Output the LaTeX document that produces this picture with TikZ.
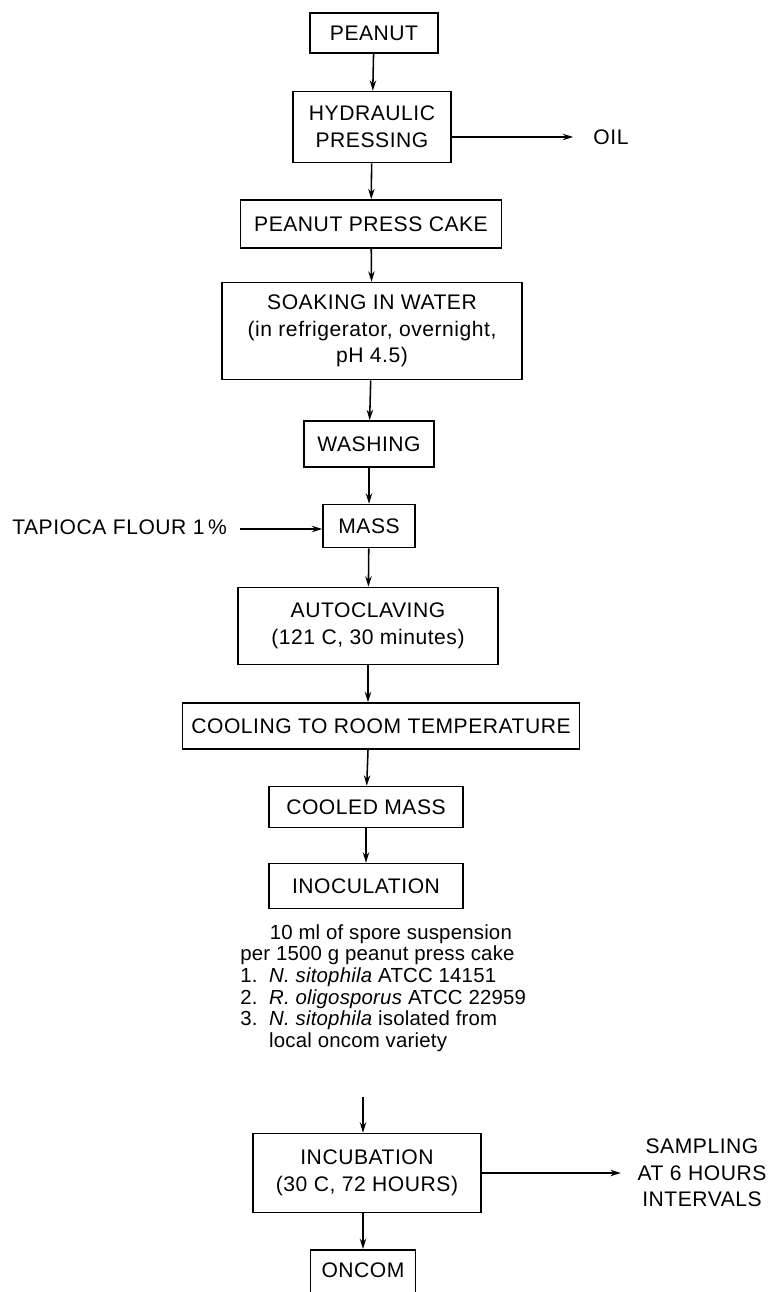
\documentclass[tikz,border=0pt]{standalone}
\usepackage{fontspec}
\setmainfont{Liberation Sans}[LetterSpace=2.5]
\newfontfamily\notefont{Liberation Sans}[LetterSpace=1]
\usepackage{tikz}
\usetikzlibrary{arrows.meta}

\begin{document}
\begin{tikzpicture}[
  x=0.025cm, y=-0.025cm,
  font=\fontsize{15}{19}\selectfont,
  >={Stealth[length=2.6mm,width=1.6mm]},
  stepbox/.style={draw, line width=1.1pt, align=center, inner sep=0pt},
  flow/.style={->, line width=1.1pt},
  side/.style={align=center, inner sep=0pt}
]
\useasboundingbox (0,0) rectangle (774,1292);
\node[stepbox, minimum width=3.2cm, minimum height=1.0cm] (peanut) at (374,33) {PEANUT};
\node[stepbox, minimum width=3.95cm, minimum height=1.775cm] (press) at (372,127) {HYDRAULIC\\PRESSING};
\node[side] (oil) at (611,137) {OIL};
\node[stepbox, minimum width=6.525cm, minimum height=1.2cm] (cake) at (371,224) {PEANUT PRESS CAKE};
\node[stepbox, minimum width=7.5cm, minimum height=2.425cm] (soak) at (372,331)
  {SOAKING IN WATER\\(in refrigerator, overnight,\\pH 4.5)};
\node[stepbox, minimum width=3.25cm, minimum height=1.15cm] (wash) at (369,444) {WASHING};
\node[stepbox, minimum width=2.3cm, minimum height=1.075cm] (mass) at (369,526) {MASS};
\node[side, anchor=west] (tapioca) at (12,527) {TAPIOCA FLOUR 1\,\%};
\coordinate (tapiocaout) at (240,529);
\node[stepbox, minimum width=6.5cm, minimum height=1.925cm] (autoclave) at (368,626)
  {AUTOCLAVING\\(121 C, 30 minutes)};
\node[stepbox, minimum width=9.925cm, minimum height=1.15cm] (cool) at (381,726) {COOLING TO ROOM TEMPERATURE};
\node[stepbox, minimum width=4.85cm, minimum height=1.025cm] (cooled) at (366,807) {COOLED MASS};
\node[stepbox, minimum width=4.85cm, minimum height=1.125cm] (inoc) at (366,886) {INOCULATION};
\node[side, align=left, anchor=north west, font=\notefont\fontsize{14.5}{15.4}\selectfont] (spore) at (240,924)
  {\hspace*{21pt}10 ml of spore suspension\\
   per 1500 g peanut press cake\\
   1.\ \ \textit{N. sitophila} ATCC 14151\\
   2.\ \ \textit{R. oligosporus} ATCC 22959\\
   3.\ \ \textit{N. sitophila} isolated from\\
   \hphantom{3.\ \ }local oncom variety};
\coordinate (sporeout) at (363,1097);
\node[stepbox, minimum width=5.7cm, minimum height=1.975cm] (incub) at (367,1173)
  {INCUBATION\\(30 C, 72 HOURS)};
\node[side] (sampling) at (702,1173) {SAMPLING\\AT 6 HOURS\\INTERVALS};
\node[stepbox, minimum width=2.625cm, minimum height=1.6cm, anchor=north] (oncom) at (363,1249) {};
\node (oncomtxt) at (363,1270) {ONCOM};

\draw[flow] (peanut) -- (press);
\draw[flow, shorten >=0.5cm] (press.east |- oil) -- (oil.west);
\draw[flow] (press) -- (cake);
\draw[flow] (cake) -- (soak);
\draw[flow] (soak) -- (wash);
\draw[flow] (wash) -- (mass);
\draw[flow] (tapiocaout) -- (mass.west |- tapiocaout);
\draw[flow] (mass) -- (autoclave);
\draw[flow] (autoclave) -- (autoclave |- cool.north);
\draw[flow] (autoclave |- cool.south) -- (cooled);
\draw[flow] (cooled) -- (inoc);
\draw[flow] (sporeout) -- (sporeout |- incub.north);
\draw[flow] (incub.east) -- ++(139,0);
\draw[flow] (incub.south -| oncom) -- (oncom.north);
\end{tikzpicture}
\end{document}
